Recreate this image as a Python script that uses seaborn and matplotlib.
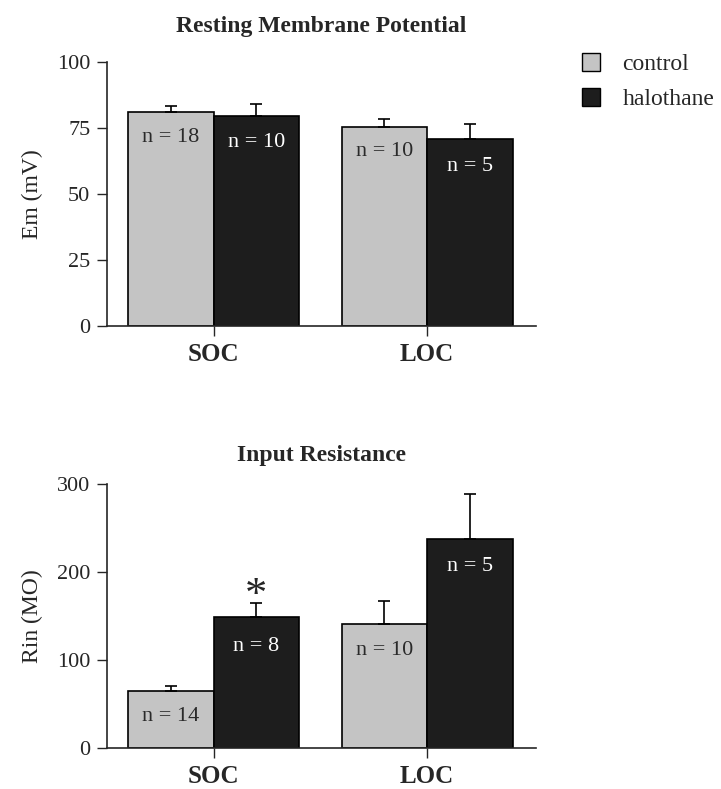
import numpy as np
import pandas as pd
import matplotlib
matplotlib.use("Agg")
import matplotlib.pyplot as plt
import seaborn as sns

# ---- data -------------------------------------------------------------
regions = ["SOC", "LOC"]
conditions = ["control", "halothane"]

# Resting membrane potential (mV), mean and SEM
em_control = [81.0, 75.5]
em_control_sem = [2.3, 2.8]
em_halothane = [79.5, 71.0]
em_halothane_sem = [4.5, 5.5]
em_n_control = [18, 10]
em_n_halothane = [10, 5]

# Input resistance (MOhm), mean and SEM
rin_control = [65.0, 141.0]
rin_control_sem = [6.0, 26.0]
rin_halothane = [149.0, 237.0]
rin_halothane_sem = [16.0, 52.0]
rin_n_control = [14, 10]
rin_n_halothane = [8, 5]

# ---- style ------------------------------------------------------------
sns.set_theme(style="ticks")
plt.rcParams["font.family"] = ["Liberation Serif", "DejaVu Serif"]
plt.rcParams["axes.linewidth"] = 1.2
palette = {"control": "#c4c4c4", "halothane": "#1d1d1d"}
text_colour = {"control": "#2a2a2a", "halothane": "white"}


def make_frame(ctrl, ctrl_sem, ctrl_n, halo, halo_sem, halo_n):
    rows = []
    for cond, vals, sems, ns in (("control", ctrl, ctrl_sem, ctrl_n),
                                 ("halothane", halo, halo_sem, halo_n)):
        for reg, v, s, n in zip(regions, vals, sems, ns):
            rows.append({"region": reg, "condition": cond,
                         "value": v, "sem": s, "n": n})
    return pd.DataFrame(rows)


def draw_panel(ax, df, title, title_gap, ylabel, ymax, yticks, label_heights):
    sns.barplot(data=df, x="region", y="value", hue="condition",
                order=regions, hue_order=conditions, palette=palette,
                width=0.8, errorbar=None, edgecolor="black",
                linewidth=1.2, saturation=1, legend=False, ax=ax)
    # bars come out hue by hue, each in region order
    for bar, (_, row) in zip(ax.patches, df.iterrows()):
        cx = bar.get_x() + bar.get_width() / 2
        ax.errorbar([cx], [row["value"]], yerr=[[0], [row["sem"]]],
                    fmt="none", ecolor="black", elinewidth=1.2,
                    capsize=4.5, capthick=1.2, zorder=1)
        ax.text(cx, label_heights[(row["condition"], row["region"])],
                f"n = {row['n']}", ha="center", va="center",
                fontsize=16, color=text_colour[row["condition"]])
    ax.set_xlim(-0.5, 1.51)
    ax.set_ylim(0, ymax)
    ax.set_yticks(yticks)
    ax.set_xlabel("")
    ax.set_ylabel(ylabel, fontsize=17, labelpad=10)
    ax.tick_params(axis="y", length=7, width=1.0, labelsize=16, pad=5)
    ax.tick_params(axis="x", length=7, width=1.0, labelsize=18, pad=5)
    for lab in ax.get_xticklabels():
        lab.set_fontweight("bold")
    sns.despine(ax=ax)
    ax.text(0.5, 1 + title_gap / 264, title, transform=ax.transAxes,
            ha="center", va="center", fontsize=17, fontweight="bold")


fig = plt.figure(figsize=(7.21, 7.89), dpi=100)
ax_top = fig.add_axes([107 / 721, 1 - 326 / 789, 429 / 721, 264 / 789])
ax_bot = fig.add_axes([107 / 721, 1 - 748 / 789, 429 / 721, 264 / 789])

em_df = make_frame(em_control, em_control_sem, em_n_control,
                   em_halothane, em_halothane_sem, em_n_halothane)
rin_df = make_frame(rin_control, rin_control_sem, rin_n_control,
                    rin_halothane, rin_halothane_sem, rin_n_halothane)

draw_panel(ax_top, em_df, "Resting Membrane Potential", 36, "Em (mV)", 100,
           [0, 25, 50, 75, 100],
           {("control", "SOC"): 71.5, ("halothane", "SOC"): 69.5,
            ("control", "LOC"): 66.0, ("halothane", "LOC"): 60.5})
draw_panel(ax_bot, rin_df, "Input Resistance", 29, "Rin (MO)", 300,
           [0, 100, 200, 300],
           {("control", "SOC"): 36, ("halothane", "SOC"): 115,
            ("control", "LOC"): 111, ("halothane", "LOC"): 206})

# significance marker over the halothane SOC bar
soc_halo = ax_bot.patches[2]
ax_bot.text(soc_halo.get_x() + soc_halo.get_width() / 2, 173, "*",
            ha="center", va="center", fontsize=32)

# legend
handles = [plt.Rectangle((0, 0), 1, 1, facecolor=palette[c],
                         edgecolor="black", linewidth=1.0)
           for c in conditions]
fig.legend(handles, conditions, loc="upper left",
           bbox_to_anchor=(573 / 721, 1 - 44 / 789), frameon=False,
           fontsize=17, handlelength=0.75, handleheight=0.75,
           handletextpad=0.95, labelspacing=0.55, borderaxespad=0)

fig.savefig("out.png", dpi=100)
